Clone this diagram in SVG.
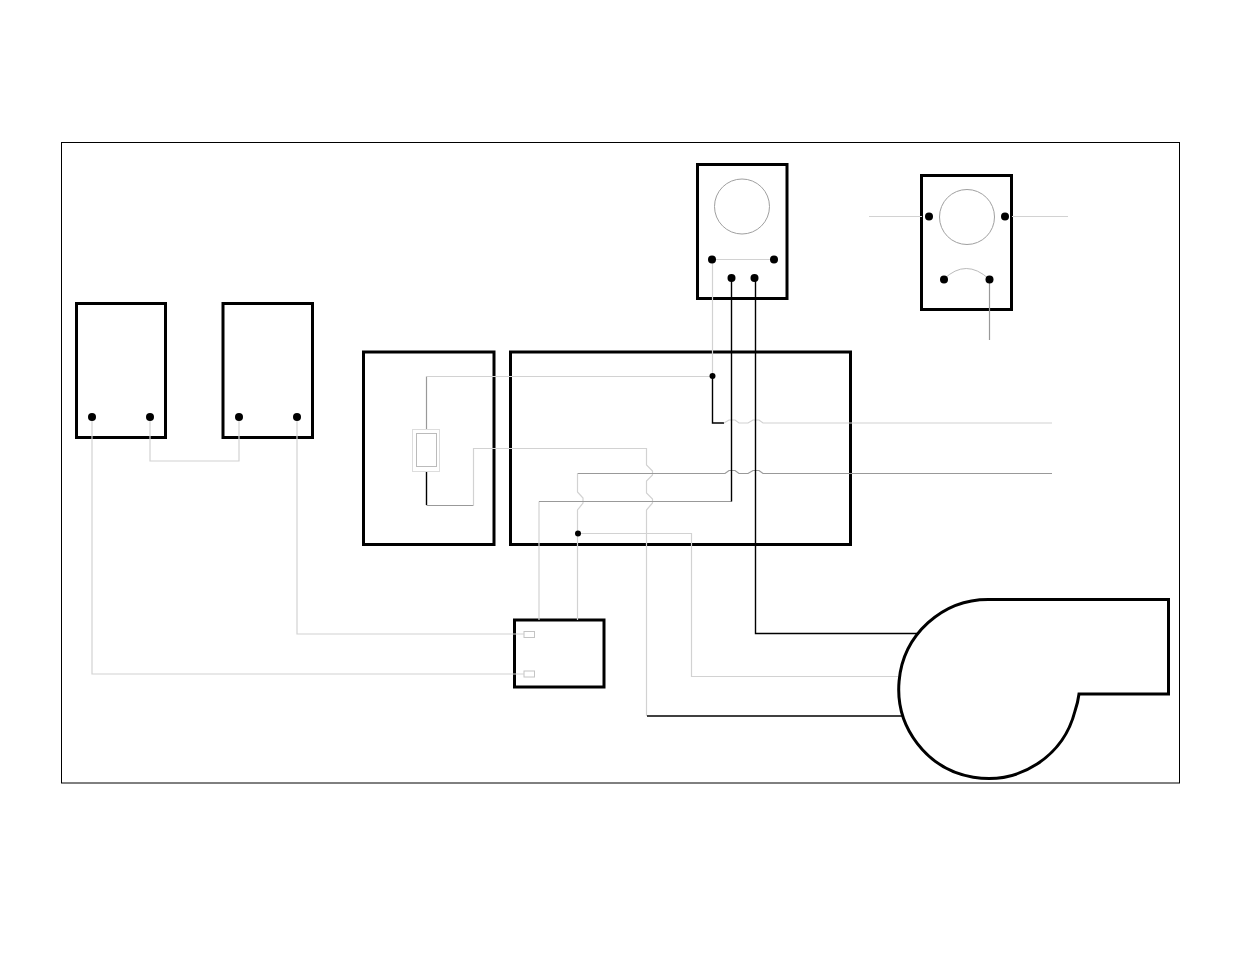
<svg xmlns="http://www.w3.org/2000/svg" width="1235" height="954" viewBox="0 0 1235 954">
<style>
.box{fill:#fff;stroke:#000;stroke-width:3}
.thin{fill:none;stroke:#c4c4c4;stroke-width:1}
.dial{fill:none;stroke:#a0a0a0;stroke-width:1}
.w{fill:none}
.l{stroke:#d2d2d2;stroke-width:1.2}
.m{stroke:#999;stroke-width:1.2}
.k{stroke:#000;stroke-width:1.4}
.t{fill:#000}
</style>
<rect width="1235" height="954" fill="#fff"/>
<g id="frame"><rect x="61.5" y="142.5" width="1118" height="640.5" fill="none" stroke="#000" stroke-width="1"/></g>
<g id="node-pressure-left"><rect class="box" x="76.5" y="303.5" width="89" height="134"/></g>
<g id="node-pressure-right"><rect class="box" x="223" y="303.5" width="89.500" height="134"/></g>
<g id="node-fuse-box"><rect class="box" x="363.500" y="352" width="130.500" height="192.500"/></g>
<g id="node-control-box"><rect class="box" x="510.500" y="352" width="340" height="192.500"/></g>
<g id="node-relay"><rect class="box" x="514.500" y="620" width="89.500" height="67"/><rect class="thin" x="524" y="631.500" width="10.500" height="6"/><rect class="thin" x="524" y="671" width="10.500" height="6"/></g>
<g id="node-switch-a"><rect class="box" x="697.500" y="164.500" width="89.500" height="134"/><circle class="dial" cx="742" cy="206.500" r="27.500"/></g>
<g id="node-switch-b"><rect class="box" x="921.500" y="175.500" width="90" height="134"/><circle class="dial" cx="967" cy="217" r="27.500"/></g>
<g id="node-blower"><path d="M989 599.500H1168.500V694H1079Q1078 702 1075 711A89.500 89.500 0 1 1 989 599.500Z" fill="#fff" stroke="#000" stroke-width="3"/></g>
<g id="connectors">
<path class="w l" d="M150 417V461H239V417"/>
<path class="w l" d="M297 417V634H524"/>
<path class="w l" d="M92 417V674H524"/>
<path class="w m" d="M426.500 429V376.500"/>
<path class="w l" d="M426.500 376.500H712"/>
<path class="w k" d="M426.500 471V505"/>
<path class="w m" d="M426.500 505.500H473.500"/>
<path class="w l" d="M473.500 505.500V448.500H646.500V465L652.500 471V475L646.500 481V493L652.500 499V503L646.500 510V716"/>
<path class="w k" d="M647 716H903"/>
<path class="w l" d="M712.500 259.500V376"/>
<path class="w l" d="M712 259.500H774"/>
<path class="w k" d="M712.500 376V423H724"/>
<path class="w l" d="M724 423L729 420H735L739 423H748L753 420H759L763 423H1052"/>
<path class="w m" d="M577.500 473.500H725L729 470.500H735L739 473.500H748L753 470.500H759L763 473.500H1052"/>
<path class="w l" d="M577.500 473.500V492L583 498V503L577.500 510V620"/>
<path class="w l" d="M539 620V501.500"/>
<path class="w m" d="M539 501.500H731.500"/>
<path class="w k" d="M731.500 278V501.500"/>
<path class="w k" d="M755.500 278V633.500H917"/>
<path class="w l" d="M578 533.500H691.500V676.500H898"/>
<path class="w l" d="M869 216.500H922M1012 216.500H1068"/>
<path class="w" stroke="#bbb" d="M944 279Q966 258 989 279"/>
<path class="w m" d="M989.500 279V340"/>
<circle class="t" cx="92" cy="417" r="4"/><circle class="t" cx="150" cy="417" r="4"/>
<circle class="t" cx="239" cy="417" r="4"/><circle class="t" cx="297" cy="417" r="4"/>
<circle class="t" cx="712" cy="259.500" r="4"/><circle class="t" cx="774" cy="259.500" r="4"/>
<circle class="t" cx="731.500" cy="278" r="4"/><circle class="t" cx="754.500" cy="278" r="4"/>
<circle class="t" cx="929" cy="216.500" r="4"/><circle class="t" cx="1005" cy="216.500" r="4"/>
<circle class="t" cx="944" cy="279.500" r="4"/><circle class="t" cx="989.500" cy="279.500" r="4"/>
<circle class="t" cx="712.500" cy="376" r="3"/><circle class="t" cx="578" cy="533.500" r="3"/>
</g>
<g id="node-fuse"><rect x="412.500" y="429.500" width="27" height="42" fill="#fff" stroke="#ddd" stroke-width="1"/><rect x="416.500" y="433.500" width="20" height="33" fill="#fff" stroke="#bbb" stroke-width="1"/></g>
</svg>
